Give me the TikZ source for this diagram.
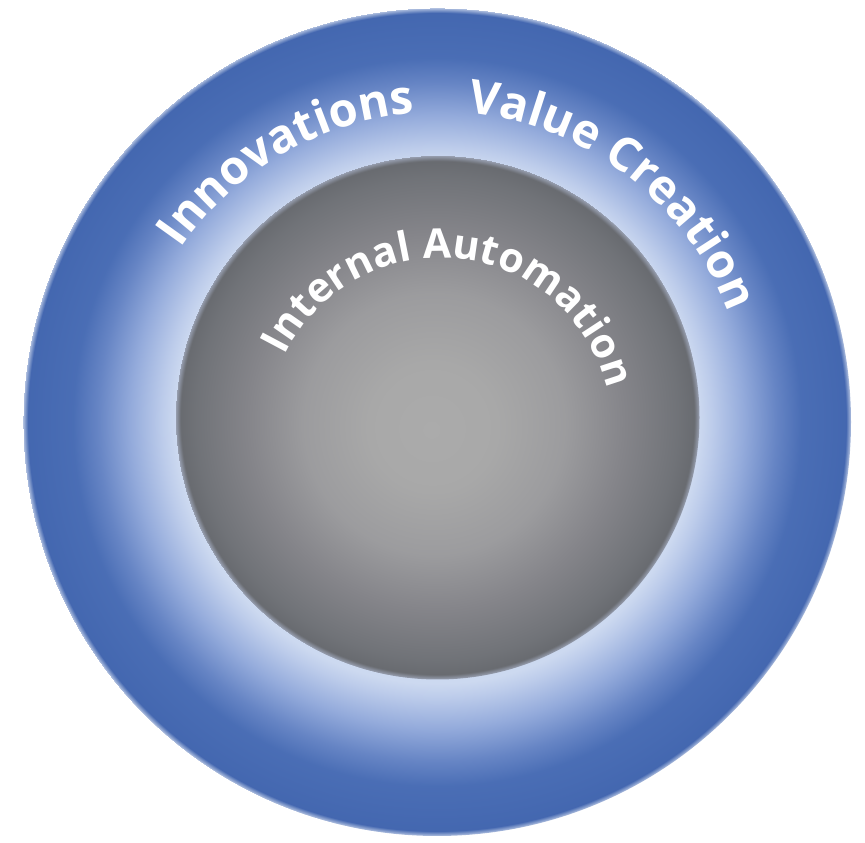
\documentclass[tikz,border=0pt]{standalone}
\usepackage{fontspec}
\setmainfont{Open Sans}
\usetikzlibrary{decorations.text,calc}
\pgfdeclareradialshading{ringblue}{\pgfpoint{0bp}{0bp}}{%
  rgb(0bp)=(0.80,0.85,0.94);
  rgb(15.8bp)=(0.80,0.85,0.94);
  rgb(16.6bp)=(0.74,0.80,0.92);
  rgb(18.5bp)=(0.58,0.67,0.86);
  rgb(20.5bp)=(0.40,0.52,0.77);
  rgb(22bp)=(0.29,0.43,0.71);
  rgb(24.7bp)=(0.265,0.405,0.69);
  rgb(25bp)=(0.70,0.76,0.88)}
\pgfdeclareradialshading{innergray}{\pgfpoint{-0.6bp}{-1.2bp}}{%
  rgb(0bp)=(0.67,0.67,0.67);
  rgb(6bp)=(0.66,0.66,0.66);
  rgb(12.5bp)=(0.61,0.61,0.62);
  rgb(18bp)=(0.52,0.52,0.54);
  rgb(23bp)=(0.44,0.45,0.47);
  rgb(24.5bp)=(0.41,0.42,0.44);
  rgb(25bp)=(0.60,0.63,0.70)}
\tikzset{
  ringtext/.style={decorate, decoration={text along path, text align=center,
    text={|\fontsize{47}{47}\selectfont\bfseries\color{white}|#1}}},
  innertext/.style={decorate, decoration={text along path, text align=center,
    text={|\fontsize{41}{41}\selectfont\bfseries\color{white}|#1}}}
}
\begin{document}
\begin{tikzpicture}[x=1pt,y=1pt]
\useasboundingbox (0,0) rectangle (865,843);
\fill[white] (0,0) rectangle (865,843);
\coordinate (oc) at (437,421);
\coordinate (ic) at (437.5,425.5);
\coordinate (tc) at (440,413);
\shade[shading=ringblue] (oc) circle[radius=414];
\shade[shading=innergray] (ic) circle[radius=262];
\path[ringtext={Innovations}] ($(oc)+(165:309)$) arc[start angle=165, end angle=75, radius=309];
\path[ringtext={Value Creation}] ($(oc)+(100:311)$) arc[start angle=100, end angle=5, radius=311];
\path[innertext={Internal Automation}] ($(tc)+(180:172)$) arc[start angle=180, end angle=-12, radius=172];
\end{tikzpicture}
\end{document}
